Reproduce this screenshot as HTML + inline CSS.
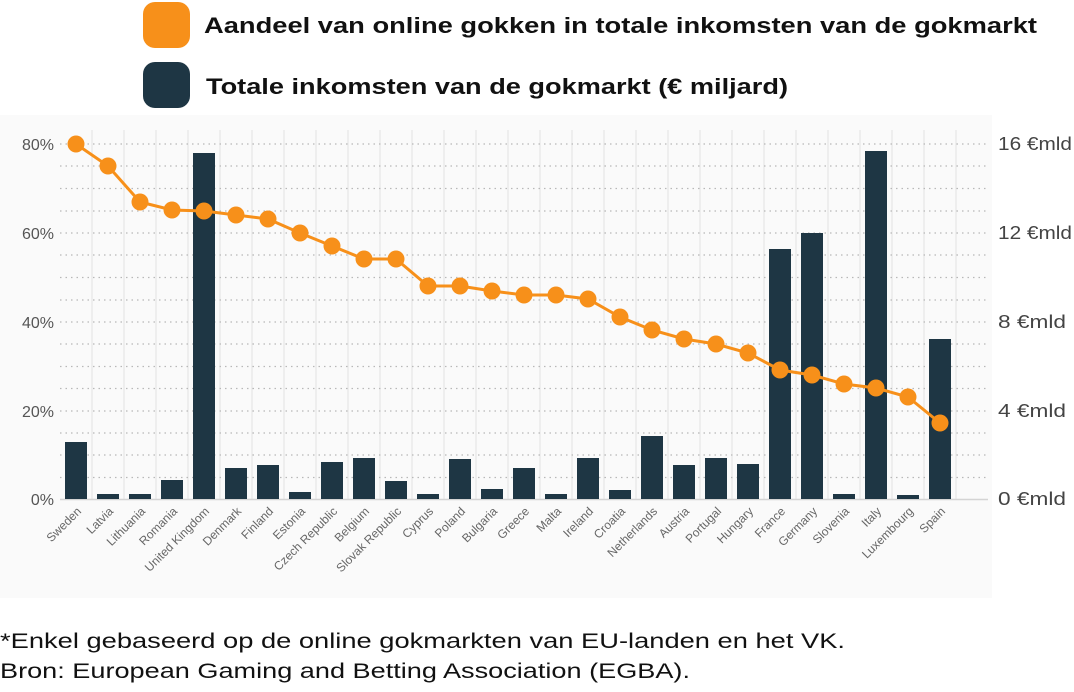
<!DOCTYPE html>
<html><head><meta charset="utf-8"><style>
body{margin:0;background:#fff;width:1074px;height:687px;overflow:hidden;font-family:"Liberation Sans",sans-serif}
svg text{font-family:"Liberation Sans",sans-serif}
</style></head><body>
<svg width="1074" height="687" viewBox="0 0 1074 687" xmlns="http://www.w3.org/2000/svg">
<rect x="143" y="2" width="47" height="46" rx="12" fill="#f7901a"/>
<rect x="143" y="62" width="47" height="46" rx="12" fill="#1e3644"/>
<text x="204" y="33" font-size="22" font-weight="bold" fill="#111" textLength="833" lengthAdjust="spacingAndGlyphs">Aandeel van online gokken in totale inkomsten van de gokmarkt</text>
<text x="206" y="94" font-size="22" font-weight="bold" fill="#111" textLength="582" lengthAdjust="spacingAndGlyphs">Totale inkomsten van de gokmarkt (€ miljard)</text>
<rect x="0" y="115" width="992" height="483" fill="#fafafa"/>
<g stroke="#e2e2e2" stroke-width="1">
<line x1="92" y1="130" x2="92" y2="499"/><line x1="124" y1="130" x2="124" y2="499"/><line x1="156" y1="130" x2="156" y2="499"/><line x1="188" y1="130" x2="188" y2="499"/><line x1="220" y1="130" x2="220" y2="499"/><line x1="252" y1="130" x2="252" y2="499"/><line x1="284" y1="130" x2="284" y2="499"/><line x1="316" y1="130" x2="316" y2="499"/><line x1="348" y1="130" x2="348" y2="499"/><line x1="380" y1="130" x2="380" y2="499"/><line x1="412" y1="130" x2="412" y2="499"/><line x1="444" y1="130" x2="444" y2="499"/><line x1="476" y1="130" x2="476" y2="499"/><line x1="508" y1="130" x2="508" y2="499"/><line x1="540" y1="130" x2="540" y2="499"/><line x1="572" y1="130" x2="572" y2="499"/><line x1="604" y1="130" x2="604" y2="499"/><line x1="636" y1="130" x2="636" y2="499"/><line x1="668" y1="130" x2="668" y2="499"/><line x1="700" y1="130" x2="700" y2="499"/><line x1="732" y1="130" x2="732" y2="499"/><line x1="764" y1="130" x2="764" y2="499"/><line x1="796" y1="130" x2="796" y2="499"/><line x1="828" y1="130" x2="828" y2="499"/><line x1="860" y1="130" x2="860" y2="499"/><line x1="892" y1="130" x2="892" y2="499"/><line x1="924" y1="130" x2="924" y2="499"/><line x1="956" y1="130" x2="956" y2="499"/>
</g>
<g stroke="#b8b8b8" stroke-width="1.2" stroke-dasharray="1.5 4">
<line x1="60" y1="144" x2="988" y2="144"/><line x1="60" y1="166" x2="988" y2="166"/><line x1="60" y1="188.5" x2="988" y2="188.5"/><line x1="60" y1="211" x2="988" y2="211"/><line x1="60" y1="233" x2="988" y2="233"/><line x1="60" y1="255" x2="988" y2="255"/><line x1="60" y1="277.5" x2="988" y2="277.5"/><line x1="60" y1="300" x2="988" y2="300"/><line x1="60" y1="322" x2="988" y2="322"/><line x1="60" y1="344" x2="988" y2="344"/><line x1="60" y1="366.5" x2="988" y2="366.5"/><line x1="60" y1="388.5" x2="988" y2="388.5"/><line x1="60" y1="411" x2="988" y2="411"/><line x1="60" y1="433" x2="988" y2="433"/><line x1="60" y1="455" x2="988" y2="455"/><line x1="60" y1="477.5" x2="988" y2="477.5"/>
</g>
<line x1="60" y1="499.5" x2="988" y2="499.5" stroke="#d4d4d4" stroke-width="1.5"/>
<g fill="#1e3644">
<rect x="65" y="442" width="22" height="57"/><rect x="97" y="494" width="22" height="5"/><rect x="129" y="494" width="22" height="5"/><rect x="161" y="480" width="22" height="19"/><rect x="193" y="153" width="22" height="346"/><rect x="225" y="468" width="22" height="31"/><rect x="257" y="465" width="22" height="34"/><rect x="289" y="492" width="22" height="7"/><rect x="321" y="462" width="22" height="37"/><rect x="353" y="458" width="22" height="41"/><rect x="385" y="481" width="22" height="18"/><rect x="417" y="494" width="22" height="5"/><rect x="449" y="459" width="22" height="40"/><rect x="481" y="489" width="22" height="10"/><rect x="513" y="468" width="22" height="31"/><rect x="545" y="494" width="22" height="5"/><rect x="577" y="458" width="22" height="41"/><rect x="609" y="490" width="22" height="9"/><rect x="641" y="436" width="22" height="63"/><rect x="673" y="465" width="22" height="34"/><rect x="705" y="458" width="22" height="41"/><rect x="737" y="464" width="22" height="35"/><rect x="769" y="249" width="22" height="250"/><rect x="801" y="233" width="22" height="266"/><rect x="833" y="494" width="22" height="5"/><rect x="865" y="151" width="22" height="348"/><rect x="897" y="495" width="22" height="4"/><rect x="929" y="339" width="22" height="160"/>
</g>
<polyline fill="none" stroke="#f7901a" stroke-width="3" points="76,144 108,166 140,202 172,210 204,211 236,215 268,219 300,233 332,246 364,259 396,259 428,286 460,286 492,291 524,295 556,295 588,299 620,317 652,330 684,339 716,344 748,353 780,370 812,375 844,384 876,388 908,397 940,423"/>
<g fill="#f7901a">
<circle cx="76" cy="144" r="8.5"/><circle cx="108" cy="166" r="8.5"/><circle cx="140" cy="202" r="8.5"/><circle cx="172" cy="210" r="8.5"/><circle cx="204" cy="211" r="8.5"/><circle cx="236" cy="215" r="8.5"/><circle cx="268" cy="219" r="8.5"/><circle cx="300" cy="233" r="8.5"/><circle cx="332" cy="246" r="8.5"/><circle cx="364" cy="259" r="8.5"/><circle cx="396" cy="259" r="8.5"/><circle cx="428" cy="286" r="8.5"/><circle cx="460" cy="286" r="8.5"/><circle cx="492" cy="291" r="8.5"/><circle cx="524" cy="295" r="8.5"/><circle cx="556" cy="295" r="8.5"/><circle cx="588" cy="299" r="8.5"/><circle cx="620" cy="317" r="8.5"/><circle cx="652" cy="330" r="8.5"/><circle cx="684" cy="339" r="8.5"/><circle cx="716" cy="344" r="8.5"/><circle cx="748" cy="353" r="8.5"/><circle cx="780" cy="370" r="8.5"/><circle cx="812" cy="375" r="8.5"/><circle cx="844" cy="384" r="8.5"/><circle cx="876" cy="388" r="8.5"/><circle cx="908" cy="397" r="8.5"/><circle cx="940" cy="423" r="8.5"/>
</g>
<g font-size="16" fill="#555" text-anchor="end">
<text x="54" y="150">80%</text><text x="54" y="239">60%</text><text x="54" y="328">40%</text><text x="54" y="417">20%</text><text x="54" y="505">0%</text>
</g>
<g font-size="18" fill="#444">
<text x="998" y="150" textLength="74" lengthAdjust="spacingAndGlyphs">16 €mld</text><text x="998" y="239" textLength="74" lengthAdjust="spacingAndGlyphs">12 €mld</text><text x="998" y="328" textLength="68" lengthAdjust="spacingAndGlyphs">8 €mld</text><text x="998" y="417" textLength="68" lengthAdjust="spacingAndGlyphs">4 €mld</text><text x="998" y="505" textLength="68" lengthAdjust="spacingAndGlyphs">0 €mld</text>
</g>
<g font-size="12" fill="#666" text-anchor="end">
<text transform="translate(82,512) rotate(-45)">Sweden</text>
<text transform="translate(114,512) rotate(-45)">Latvia</text>
<text transform="translate(146,512) rotate(-45)">Lithuania</text>
<text transform="translate(178,512) rotate(-45)">Romania</text>
<text transform="translate(210,512) rotate(-45)">United Kingdom</text>
<text transform="translate(242,512) rotate(-45)">Denmark</text>
<text transform="translate(274,512) rotate(-45)">Finland</text>
<text transform="translate(306,512) rotate(-45)">Estonia</text>
<text transform="translate(338,512) rotate(-45)">Czech Republic</text>
<text transform="translate(370,512) rotate(-45)">Belgium</text>
<text transform="translate(402,512) rotate(-45)">Slovak Republic</text>
<text transform="translate(434,512) rotate(-45)">Cyprus</text>
<text transform="translate(466,512) rotate(-45)">Poland</text>
<text transform="translate(498,512) rotate(-45)">Bulgaria</text>
<text transform="translate(530,512) rotate(-45)">Greece</text>
<text transform="translate(562,512) rotate(-45)">Malta</text>
<text transform="translate(594,512) rotate(-45)">Ireland</text>
<text transform="translate(626,512) rotate(-45)">Croatia</text>
<text transform="translate(658,512) rotate(-45)">Netherlands</text>
<text transform="translate(690,512) rotate(-45)">Austria</text>
<text transform="translate(722,512) rotate(-45)">Portugal</text>
<text transform="translate(754,512) rotate(-45)">Hungary</text>
<text transform="translate(786,512) rotate(-45)">France</text>
<text transform="translate(818,512) rotate(-45)">Germany</text>
<text transform="translate(850,512) rotate(-45)">Slovenia</text>
<text transform="translate(882,512) rotate(-45)">Italy</text>
<text transform="translate(914,512) rotate(-45)">Luxembourg</text>
<text transform="translate(946,512) rotate(-45)">Spain</text>
</g>
<text x="0" y="648" font-size="21" fill="#111" textLength="845" lengthAdjust="spacingAndGlyphs">*Enkel gebaseerd op de online gokmarkten van EU-landen en het VK.</text>
<text x="0" y="678" font-size="21" fill="#111" textLength="690" lengthAdjust="spacingAndGlyphs">Bron: European Gaming and Betting Association (EGBA).</text>
</svg>
</body></html>
